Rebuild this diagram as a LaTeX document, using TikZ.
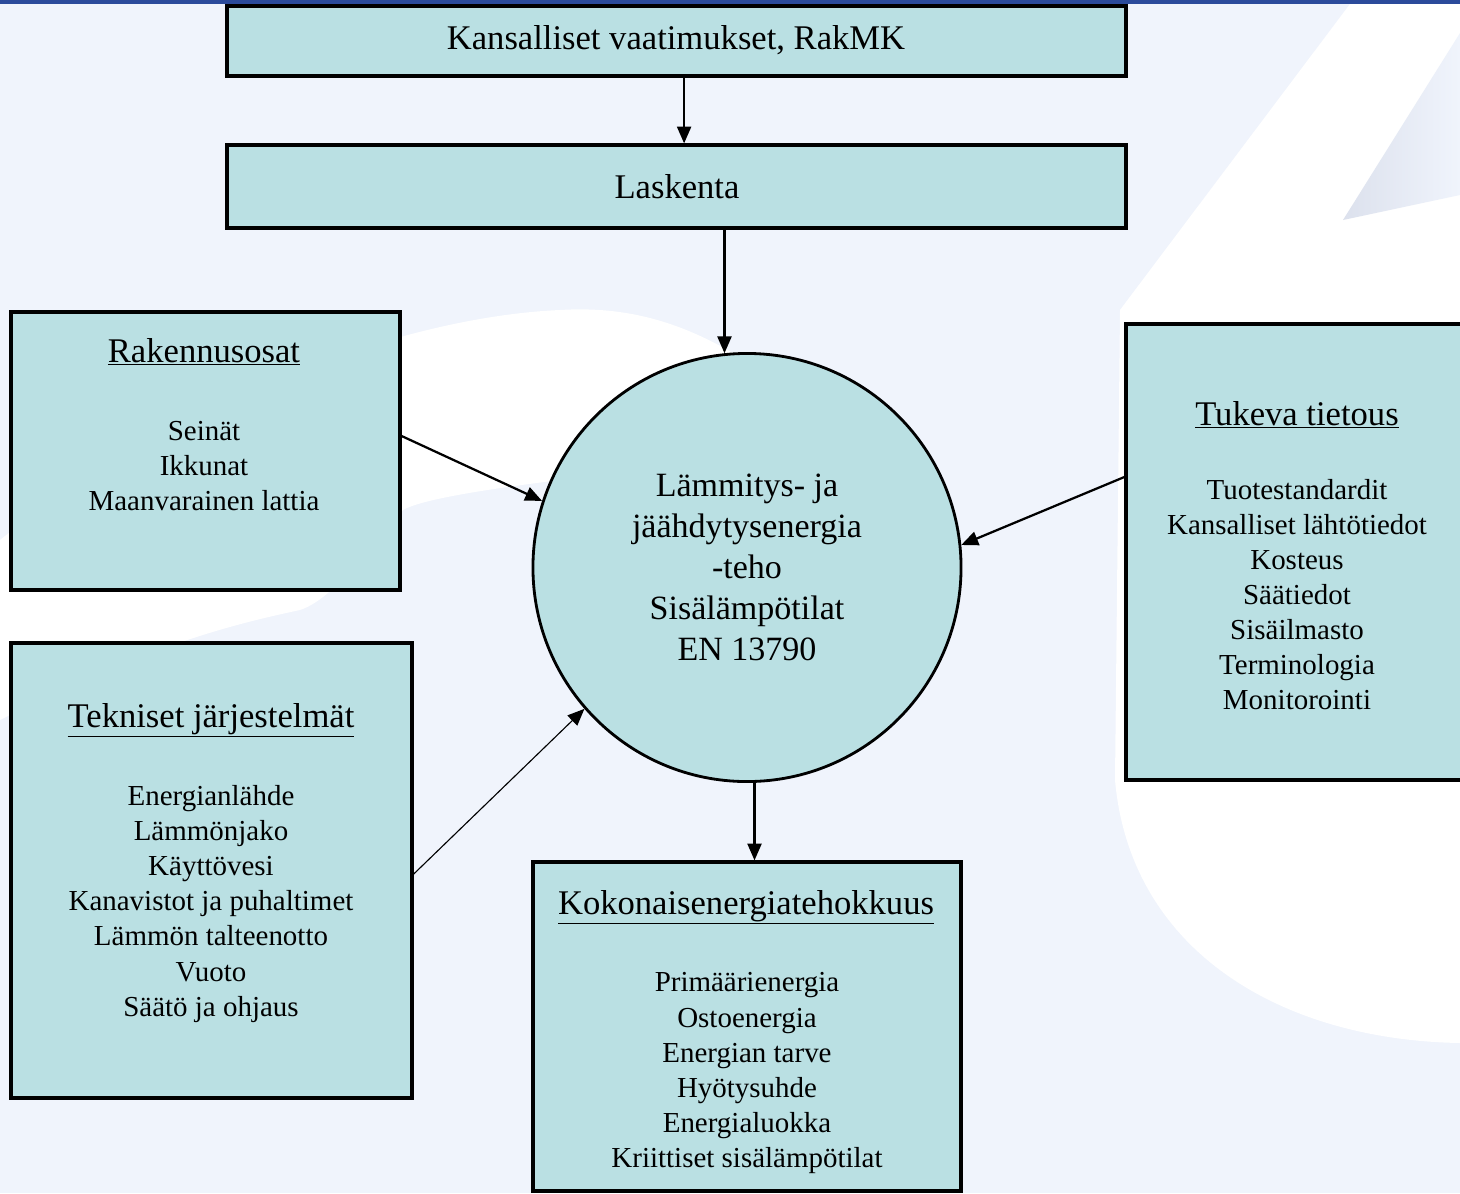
\documentclass[tikz,border=0pt]{standalone}
\usepackage{fontspec}
\setmainfont{Liberation Serif}
\usetikzlibrary{arrows.meta,fit}
\definecolor{boxfill}{HTML}{BAE0E3}
\definecolor{bgblue}{HTML}{F0F4FC}
\definecolor{barblue}{HTML}{2B4B9B}
\definecolor{swgray}{HTML}{DCE1ED}

\begin{document}
\begin{tikzpicture}[x=0.025cm,y=-0.025cm,
  box/.style={draw=black,line width=2.3pt,fill=boxfill,inner sep=0pt},
  ttl/.style={font=\fontsize{24.6}{29}\selectfont,anchor=base},
  lst/.style={font=\fontsize{20.6}{24.9}\selectfont,align=center},
  arr/.style={-{Triangle[length=12pt,width=10pt]},line width=1.6pt}]
\useasboundingbox (0,0) rectangle (1460,1193);
\clip (0,0) rectangle (1460,1193);
\fill[bgblue] (0,0) rectangle (1460,1193);
\fill[white] (1353,0) -- (1460,0) -- (1460,1043) .. controls (1280,1040) and (1130,950) .. (1115,780) -- (1120,310) -- cycle;
\shade[left color=swgray,right color=bgblue] (1343,220) -- (1460,33) -- (1460,195) -- cycle;
\fill[white] (0,540) .. controls (150,420) and (380,318) .. (560,310) .. controls (640,305) and (700,330) .. (760,370) -- (760,440) .. controls (680,460) and (620,470) .. (560,480) .. controls (480,490) and (420,500) .. (403,510) .. controls (360,560) and (330,600) .. (300,610) .. controls (230,625) and (150,645) .. (0,720) -- cycle;
\fill[barblue] (0,0) rectangle (1460,4);

\node[box,fit={(227,6) (1126,76)}] (kans) {};
\node[ttl] (kanstxt) at (676,49) {Kansalliset vaatimukset, RakMK};
\node[box,fit={(227,145) (1126,228)}] (lask) {};
\node[ttl] (lasktxt) at (677,198) {Laskenta};
\node[box,fit={(11,312) (400,590)}] (rak) {};
\node[ttl] (rakhd) at (204,362) {\underline{Rakennusosat}};
\node[lst] (raklst) at (204,466) {Seinät\\Ikkunat\\Maanvarainen lattia};
\node[box,fit={(11,643) (412,1098)}] (tek) {};
\node[ttl] (tekhd) at (211,727) {\underline{Tekniset järjestelmät}};
\node[lst] (teklst) at (211,904) {Energianlähde\\Lämmönjako\\Käyttövesi\\Kanavistot ja puhaltimet\\Lämmön talteenotto\\Vuoto\\Säätö ja ohjaus};
\node[box,fit={(1126,324) (1475,780)}] (tuk) {};
\node[ttl] (tukhd) at (1297,425) {\underline{Tukeva tietous}};
\node[lst] (tuklst) at (1297,595) {Tuotestandardit\\Kansalliset lähtötiedot\\Kosteus\\Säätiedot\\Sisäilmasto\\Terminologia\\Monitorointi};
\node[box,fit={(533,862) (961,1191)}] (koko) {};
\node[ttl] (kokohd) at (746,914) {\underline{Kokonaisenergiatehokkuus}};
\node[lst] (kokolst) at (747,1073) {Primäärienergia\\Ostoenergia\\Energian tarve\\Hyötysuhde\\Energialuokka\\Kriittiset sisälämpötilat};
\node[circle,draw=black,line width=2pt,fill=boxfill,minimum size=10.7cm,inner sep=0pt,align=center,font=\fontsize{24.2}{29.2}\selectfont] (circ) at (747,567.5) {Lämmitys- ja\\jäähdytysenergia\\-teho\\Sisälämpötilat\\EN 13790};

\draw[arr] ([xshift=0.19cm]kans.south) -- ([xshift=0.19cm]lask.north);
\draw[arr] (circ.96 |- lask.south) -- (circ.96);
\draw[arr] ([yshift=0.375cm]rak.east) -- (circ.162.7);
\draw[arr,line width=0.8pt] ([yshift=-0.09cm]tek.east) -- (circ.221.9);
\draw[arr] ([yshift=1.875cm]tuk.west) -- (circ.6);
\draw[arr] (circ.-88.7) -- (circ.-88.7 |- koko.north);
\end{tikzpicture}
\end{document}
